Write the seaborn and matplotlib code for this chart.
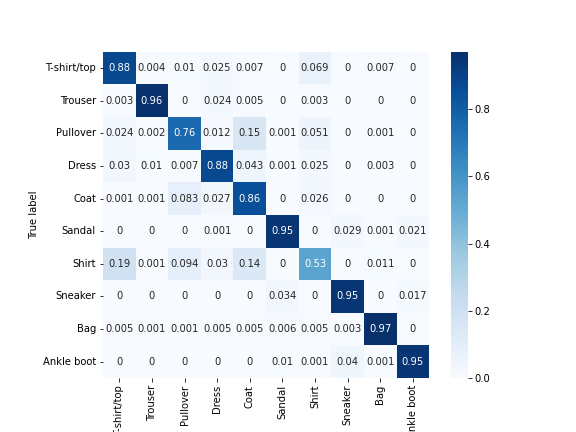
import matplotlib
matplotlib.use("Agg")
import matplotlib.pyplot as plt
import seaborn as sns
import numpy as np
import pandas as pd

classes = ["T-shirt/top", "Trouser", "Pullover", "Dress", "Coat",
           "Sandal", "Shirt", "Sneaker", "Bag", "Ankle boot"]

row_tshirt = [0.88, 0.004, 0.01, 0.025, 0.007, 0, 0.069, 0, 0.007, 0]
row_trouser = [0.003, 0.96, 0, 0.024, 0.005, 0, 0.003, 0, 0, 0]
row_pullover = [0.024, 0.002, 0.76, 0.012, 0.15, 0.001, 0.051, 0, 0.001, 0]
row_dress = [0.03, 0.01, 0.007, 0.88, 0.043, 0.001, 0.025, 0, 0.003, 0]
row_coat = [0.001, 0.001, 0.083, 0.027, 0.86, 0, 0.026, 0, 0, 0]
row_sandal = [0, 0, 0, 0.001, 0, 0.95, 0, 0.029, 0.001, 0.021]
row_shirt = [0.19, 0.001, 0.094, 0.03, 0.14, 0, 0.53, 0, 0.011, 0]
row_sneaker = [0, 0, 0, 0, 0, 0.034, 0, 0.95, 0, 0.017]
row_bag = [0.005, 0.001, 0.001, 0.005, 0.005, 0.006, 0.005, 0.003, 0.97, 0]
row_ankle = [0, 0, 0, 0, 0, 0.01, 0.001, 0.04, 0.001, 0.95]

cm = pd.DataFrame([row_tshirt, row_trouser, row_pullover, row_dress, row_coat,
                   row_sandal, row_shirt, row_sneaker, row_bag, row_ankle],
                  index=classes, columns=classes)

fig = plt.figure(figsize=(8, 6), dpi=72)
fig.subplots_adjust(bottom=0.125, top=0.88)
ax = sns.heatmap(cm, annot=True, cmap="Blues", fmt=".2g", square=True)
ax.set_anchor("E")
ax.set_ylabel("True label")
plt.savefig("out.png", dpi=72)
